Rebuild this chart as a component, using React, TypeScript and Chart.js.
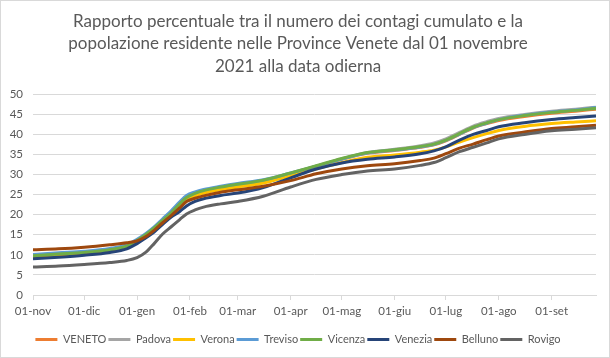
import React, { useEffect, useRef } from "react";
import { Chart, registerables } from "chart.js";

Chart.register(...registerables);

const TITLE = [
  "Rapporto percentuale tra il numero dei contagi cumulato e la",
  "popolazione residente nelle Province Venete dal 01 novembre",
  "2021 alla data odierna",
];

// day offsets from 01-nov-2021
const days = [0, 15, 30, 45, 55, 61, 66, 71, 76, 81, 86, 90, 95, 100, 110, 120, 135, 151, 166, 181, 196, 212, 227, 235, 242, 250, 258, 266, 273, 288, 304, 318, 330];

const monthDays = [0, 30, 61, 92, 120, 151, 181, 212, 242, 273, 304];
const monthLabels = ["01-nov", "01-dic", "01-gen", "01-feb", "01-mar", "01-apr", "01-mag", "01-giu", "01-lug", "01-ago", "01-set"];

const veneto = [9.6, 10.0, 10.4, 11.1, 12.0, 13.4, 14.8, 16.5, 18.4, 20.3, 22.5, 24.1, 25.1, 25.8, 26.7, 27.4, 28.4, 30.2, 32.0, 33.8, 35.3, 36.0, 36.8, 37.4, 38.4, 40.0, 41.6, 42.7, 43.5, 44.5, 45.3, 45.8, 46.3];
const padova = [9.6, 10.0, 10.4, 11.1, 12.0, 13.5, 14.9, 16.6, 18.5, 20.4, 22.5, 24.0, 25.0, 25.8, 26.7, 27.4, 28.5, 30.3, 32.1, 33.9, 35.5, 36.3, 37.2, 37.9, 38.9, 40.5, 42.1, 43.2, 44.0, 45.0, 45.8, 46.3, 46.8];
const verona = [9.4, 9.8, 10.3, 11.0, 12.0, 13.4, 14.8, 16.4, 18.3, 20.2, 22.2, 23.7, 24.7, 25.4, 26.3, 26.9, 27.9, 29.7, 31.4, 33.0, 34.3, 34.9, 35.6, 36.1, 36.9, 38.1, 39.2, 40.2, 41.0, 42.0, 42.7, 43.1, 43.4];
const treviso = [10.1, 10.5, 10.9, 11.6, 12.5, 13.9, 15.3, 17.0, 19.0, 21.0, 23.2, 24.8, 25.7, 26.3, 27.1, 27.8, 28.7, 30.4, 32.1, 33.9, 35.4, 36.1, 36.9, 37.5, 38.5, 40.1, 41.7, 42.8, 43.7, 44.8, 45.6, 46.1, 46.7];
const vicenza = [9.8, 10.2, 10.6, 11.3, 12.2, 13.6, 15.0, 16.7, 18.6, 20.5, 22.7, 24.3, 25.3, 26.0, 26.9, 27.6, 28.6, 30.4, 32.2, 34.0, 35.5, 36.2, 37.0, 37.6, 38.6, 40.2, 41.8, 42.9, 43.7, 44.7, 45.5, 46.0, 46.5];
const venezia = [9.0, 9.4, 9.9, 10.6, 11.5, 12.8, 14.2, 15.7, 17.6, 19.4, 20.8, 22.2, 23.3, 24.0, 24.8, 25.4, 26.8, 29.2, 31.4, 32.9, 33.8, 34.4, 35.2, 35.9, 36.9, 38.6, 40.0, 41.0, 41.9, 42.9, 43.7, 44.2, 44.6];
const belluno = [11.3, 11.5, 11.9, 12.5, 13.0, 13.5, 14.5, 16.1, 18.0, 19.8, 21.7, 23.3, 24.1, 24.7, 25.6, 26.2, 27.1, 28.5, 30.2, 31.4, 32.2, 32.7, 33.5, 34.1, 35.2, 36.6, 37.6, 38.7, 39.6, 40.6, 41.5, 41.9, 42.3];
const rovigo = [7.0, 7.2, 7.6, 8.1, 8.6, 9.3, 10.6, 12.8, 15.2, 17.0, 18.8, 20.2, 21.2, 21.9, 22.7, 23.3, 24.6, 26.9, 28.8, 30.0, 30.9, 31.4, 32.3, 33.0, 34.2, 35.7, 36.8, 37.9, 38.9, 40.0, 40.9, 41.3, 41.7];

const seriesNames = ["VENETO", "Padova", "Verona", "Treviso", "Vicenza", "Venezia", "Belluno", "Rovigo"];
const seriesValues = [veneto, padova, verona, treviso, vicenza, venezia, belluno, rovigo];
const seriesColors = ["#ED7D31", "#A5A5A5", "#FFC000", "#5B9BD5", "#70AD47", "#264478", "#9E480E", "#636363"];

const TEXT = "#595959";
const GRID = "#d9d9d9";

export default function App() {
  const ref = useRef<HTMLCanvasElement | null>(null);

  useEffect(() => {
    if (!ref.current) return;
    Chart.defaults.font.family = "Lato, 'DejaVu Sans', sans-serif";
    const n = seriesNames.length;
    const chart = new Chart(ref.current, {
      type: "line",
      data: {
        datasets: seriesNames.map((name, i) => ({
          label: name,
          data: days.map((d, k) => ({ x: d, y: seriesValues[i][k] })),
          borderColor: seriesColors[i],
          backgroundColor: seriesColors[i],
          borderWidth: 3,
          pointRadius: 0,
          cubicInterpolationMode: "monotone" as const,
          order: n - 1 - i,
        })),
      },
      options: {
        animation: false,
        responsive: false,
        layout: { padding: { left: 0, right: 14, top: 0, bottom: 3 } },
        plugins: {
          title: {
            display: true,
            text: TITLE,
            color: TEXT,
            font: { size: 17, weight: "normal", lineHeight: 1.32 },
            padding: { top: 10, bottom: 17 },
          },
          legend: {
            position: "bottom",
            labels: {
              color: TEXT,
              font: { size: 11 },
              boxWidth: 22,
              boxHeight: 3,
              padding: 2,
              sort: (a: any, b: any) => a.datasetIndex - b.datasetIndex,
              generateLabels: (chart: any) => {
                const items = Chart.defaults.plugins.legend.labels.generateLabels(chart);
                return items.map((it: any) => ({ ...it, lineWidth: 0, fillStyle: it.strokeStyle }));
              },
            },
          },
          tooltip: { enabled: false },
        },
        scales: {
          x: {
            type: "linear",
            min: 0,
            max: 330,
            afterBuildTicks: (scale: any) => {
              scale.ticks = monthDays.map((v) => ({ value: v }));
            },
            afterFit: (scale: any) => {
              scale.height = 37;
            },
            ticks: {
              color: TEXT,
              font: { size: 11.5 },
              autoSkip: false,
              maxRotation: 0,
              minRotation: 0,
              padding: 4,
              callback: (v: any) => {
                const idx = monthDays.indexOf(Number(v));
                return idx >= 0 ? monthLabels[idx] : "";
              },
            },
            grid: { drawOnChartArea: false, drawTicks: true, tickLength: 5, color: GRID },
            border: { display: true, color: GRID },
          },
          y: {
            min: 0,
            max: 50,
            ticks: { stepSize: 5, color: TEXT, font: { size: 11.5 }, padding: 10 },
            afterFit: (scale: any) => {
              scale.width = 33;
            },
            grid: { color: GRID, drawTicks: false },
            border: { display: false },
          },
        },
      },
    } as any);
    return () => chart.destroy();
  }, []);

  return (
    <div style={{ position: "relative", width: 610, height: 358, background: "#fff", boxSizing: "border-box", border: `1px solid ${GRID}` }}>
      <style>{`body{margin:0}`}</style>
      <canvas ref={ref} width={610} height={358} style={{ position: "absolute", left: -1, top: -1 }} />
    </div>
  );
}
